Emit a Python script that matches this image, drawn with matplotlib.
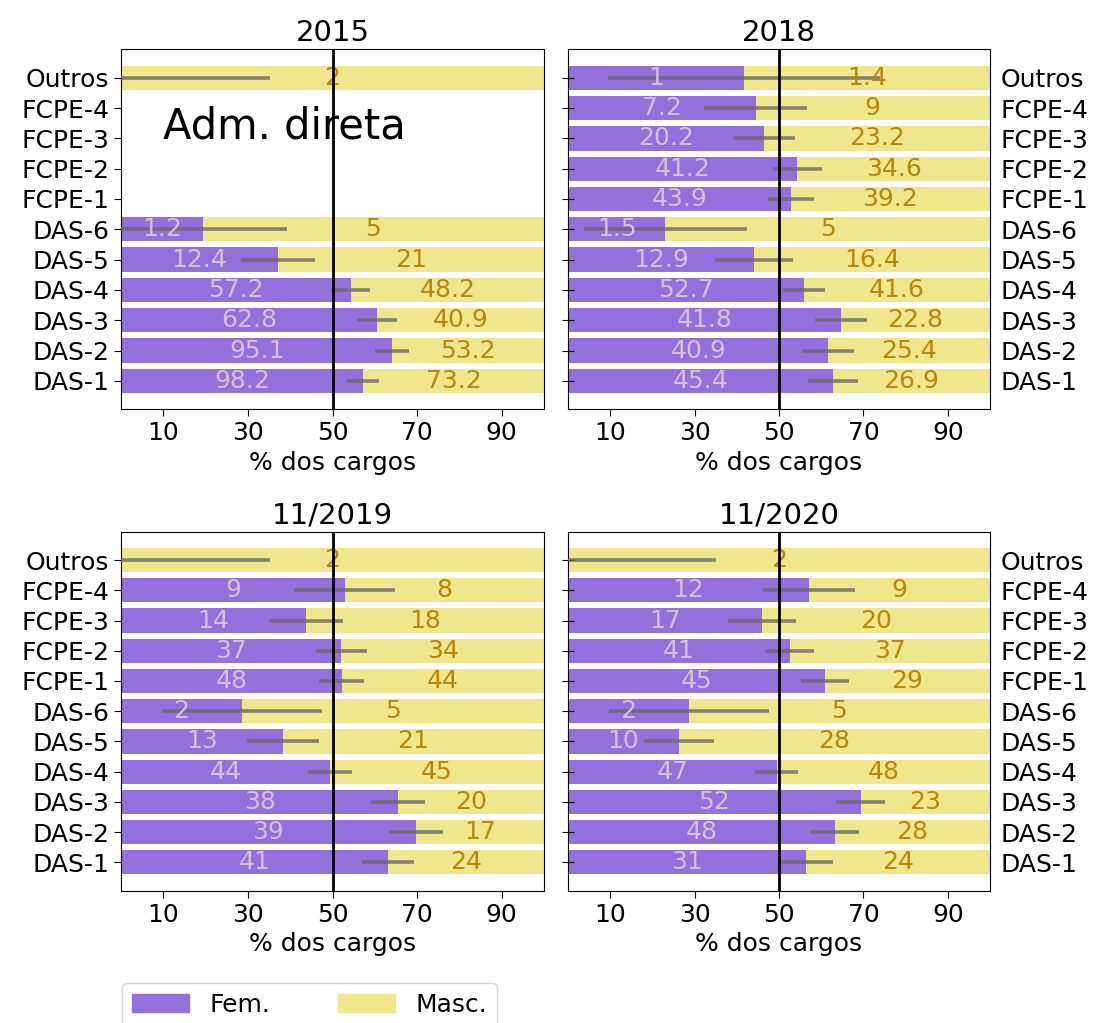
import numpy as np
import matplotlib
matplotlib.use("Agg")
import matplotlib.pyplot as plt
from matplotlib.patches import Patch

plt.rcParams['font.family'] = ['DejaVu Sans']
plt.rcParams['font.size'] = 18

categories = ['DAS-1', 'DAS-2', 'DAS-3', 'DAS-4', 'DAS-5', 'DAS-6',
              'FCPE-1', 'FCPE-2', 'FCPE-3', 'FCPE-4', 'Outros']

titles = ['2015', '2018', '11/2019', '11/2020']

nan = np.nan
fem_2015 = [98.2, 95.1, 62.8, 57.2, 12.4, 1.2, nan, nan, nan, nan, 0]
masc_2015 = [73.2, 53.2, 40.9, 48.2, 21, 5, nan, nan, nan, nan, 2]
err_2015 = [3.8, 4.05, 4.75, 4.7, 8.65, 20.0, nan, nan, nan, nan, 35.2]

fem_2018 = [45.4, 40.9, 41.8, 52.7, 12.9, 1.5, 43.9, 41.2, 20.2, 7.2, 1]
masc_2018 = [26.9, 25.4, 22.8, 41.6, 16.4, 5, 39.2, 34.6, 23.2, 9, 1.4]
err_2018 = [5.95, 6.2, 6.2, 4.95, 9.2, 19.35, 5.5, 5.8, 7.35, 12.2, 32.3]

fem_2019 = [41, 39, 38, 44, 13, 2, 48, 37, 14, 9, 0]
masc_2019 = [24, 17, 20, 45, 21, 5, 44, 34, 18, 8, 2]
err_2019 = [6.2, 6.4, 6.35, 5.2, 8.5, 18.9, 5.25, 6.0, 8.7, 11.95, 35.2]

fem_2020 = [31, 48, 52, 47, 10, 2, 45, 41, 17, 12, 0]
masc_2020 = [24, 28, 23, 48, 28, 5, 29, 37, 20, 9, 2]
err_2020 = [6.45, 5.7, 5.8, 5.05, 8.25, 18.95, 5.7, 5.8, 8.05, 10.85, 35.1]

panels = [(fem_2015, masc_2015, err_2015),
          (fem_2018, masc_2018, err_2018),
          (fem_2019, masc_2019, err_2019),
          (fem_2020, masc_2020, err_2020)]

FEM_C = 'mediumpurple'
MASC_C = 'khaki'
FEM_TXT = 'thistle'
MASC_TXT = 'darkgoldenrod'

W, H = 1096, 1023
fig = plt.figure(figsize=(W / 100, H / 100), dpi=100)

lefts = [121, 568, 121, 568]
rights = [544, 990, 544, 990]
tops = [49.3, 49.3, 531.7, 531.7]
bots = [409.3, 409.3, 890.7, 890.7]

y = np.arange(len(categories))
for i, (fem, masc, err) in enumerate(panels):
    ax = fig.add_axes([lefts[i] / W, 1 - bots[i] / H,
                       (rights[i] - lefts[i]) / W, (bots[i] - tops[i]) / H])
    fem = np.array(fem, dtype=float)
    masc = np.array(masc, dtype=float)
    err = np.array(err, dtype=float)
    tot = fem + masc
    pf = 100 * fem / tot
    valid = ~np.isnan(pf)
    ax.barh(y[valid], pf[valid], height=0.8, color=FEM_C)
    ax.barh(y[valid], 100 - pf[valid], left=pf[valid], height=0.8, color=MASC_C)
    ax.errorbar(pf[valid], y[valid], xerr=err[valid], fmt='none',
                ecolor='dimgray', elinewidth=2.6, alpha=0.8, zorder=3)
    for k in np.where(valid)[0]:
        if fem[k] > 0:
            ax.text(pf[k] / 2, y[k], '{:g}'.format(fem[k]), color=FEM_TXT,
                    ha='center', va='center', fontsize=18)
        if masc[k] > 0:
            ax.text((pf[k] + 100) / 2, y[k], '{:g}'.format(masc[k]), color=MASC_TXT,
                    ha='center', va='center', fontsize=18)
    ax.axvline(50, color='k', lw=2, zorder=4)
    ax.set_xlim(0, 100)
    ax.set_xticks([10, 30, 50, 70, 90])
    ax.set_yticks(y)
    ax.set_yticklabels(categories)
    ax.set_title(titles[i], fontsize=21)
    ax.set_xlabel('% dos cargos')
    ax.tick_params(axis='x', length=5)
    if i % 2 == 1:
        ax.tick_params(axis='y', direction='inout', length=8,
                       labelleft=False, labelright=True, left=True, right=False)
    else:
        ax.tick_params(axis='y', length=5)
    if i == 0:
        ax.text(10, 8, 'Adm. direta', fontsize=30)

handles = [Patch(color=FEM_C, label='Fem.'), Patch(color=MASC_C, label='Masc.')]
fig.legend(handles=handles, loc='upper left', ncol=2,
           bbox_to_anchor=(121.7 / W, 1 - 982.7 / H), borderaxespad=0,
           handlelength=2.3, columnspacing=2.7, fontsize=18)

fig.savefig('out.png', dpi=100)
